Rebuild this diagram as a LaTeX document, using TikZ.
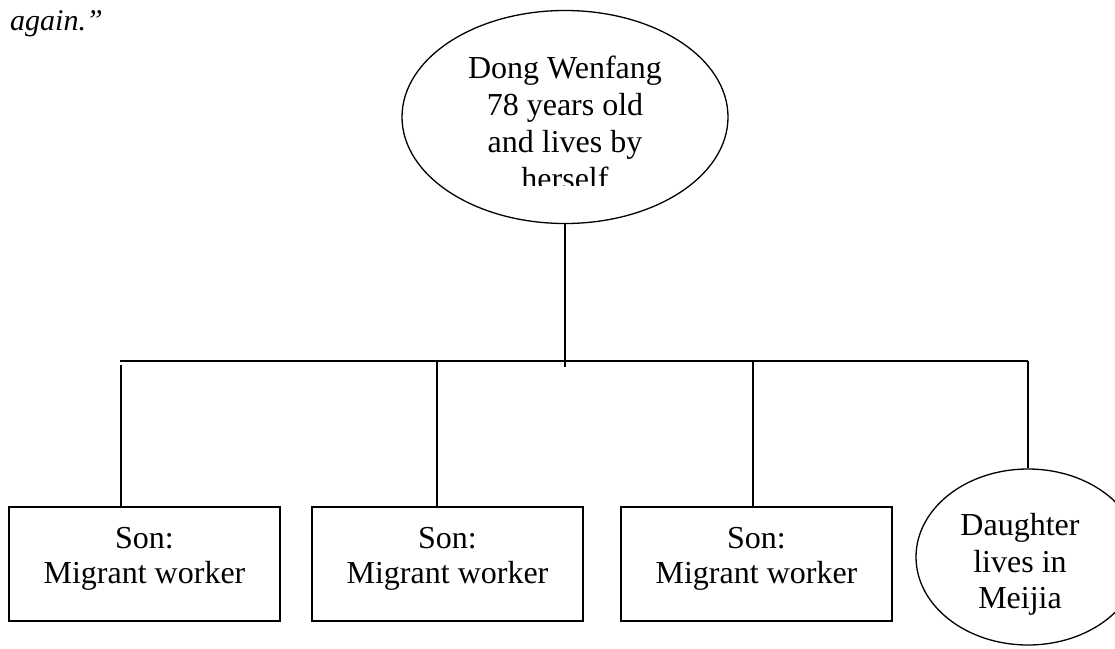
\documentclass[tikz,border=0pt]{standalone}
\usepackage{fontspec}
\setmainfont{Liberation Serif}
\usetikzlibrary{shapes.geometric}
\begin{document}
\begin{tikzpicture}[x=1pt,y=-1pt,
  link/.style={line width=1.3pt},
  person/.style={draw, line width=1.3pt, ellipse, inner sep=0pt},
  sonbox/.style={draw, line width=1.3pt, rectangle, minimum width=271pt, minimum height=114pt, inner sep=0pt},
  txt/.style={font=\fontsize{32}{37}\selectfont, inner sep=0pt, anchor=base}]
\useasboundingbox (0,0) rectangle (1115,648);

% closing words of the quotation above the chart
\node[txt, anchor=base west, font=\fontsize{30}{35}\selectfont\itshape] (quote) at (10,30) {again.”};

% the mother
\node[person, minimum width=326pt, minimum height=213pt] (mother) at (565,117) {};
\begin{scope}
  \clip (402,0) rectangle (728,185);
  \node[txt] (m1) at (565,78) {Dong Wenfang};
  \node[txt] (m2) at (565,115) {78 years old};
  \node[txt] (m3) at (565,152) {and lives by};
  \node[txt] (m4) at (565,189) {herself};
\end{scope}

% the children
\node[sonbox] (son1) at (144.5,564) {};
\node[sonbox] (son2) at (447.5,564) {};
\node[sonbox] (son3) at (756.5,564) {};
\foreach \s/\x in {son1/144.5, son2/447.5, son3/756.5}{
  \node[txt] (\s a) at (\x,548) {Son:};
  \node[txt] (\s b) at (\x,583) {Migrant worker};
}
\node[person, minimum width=224pt, minimum height=176pt] (daughter) at (1028,557) {};
\node[txt] (da) at (1020,535) {Daughter};
\node[txt] (db) at (1020,572) {lives in};
\node[txt] (dc) at (1020,608) {Meijia};

% connectors
\coordinate (hub) at (565,367);
\coordinate (barL) at (120,361);
\coordinate (barR) at (1028,361);
\coordinate (d1) at (121,365);
\coordinate (d2) at (437,361);
\coordinate (d3) at (753,361);
\draw[link] (mother.south) -- (hub);
\draw[link] (barL) -- (barR);
\draw[link] (d1) -- (d1 |- son1.north);
\draw[link] (d2) -- (d2 |- son2.north);
\draw[link] (d3) -- (d3 |- son3.north);
\draw[link] (barR) -- (daughter.north);
\end{tikzpicture}
\end{document}
